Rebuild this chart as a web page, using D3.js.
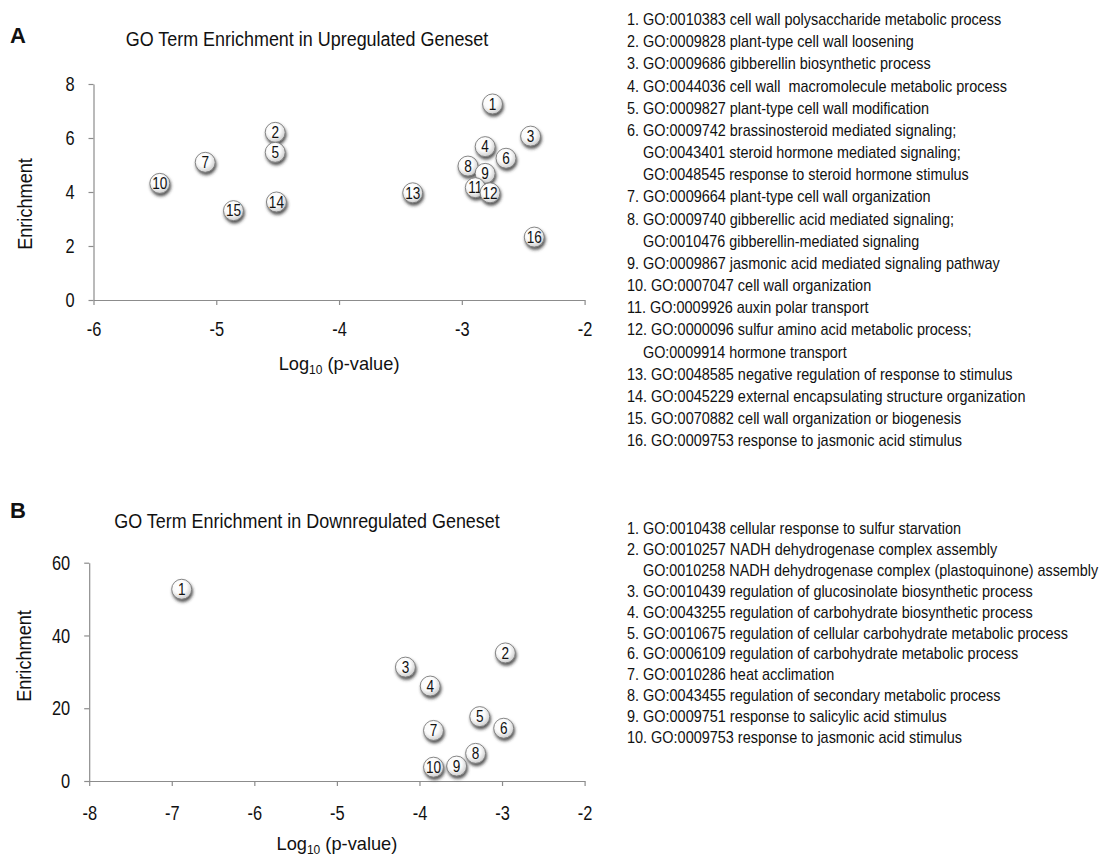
<!DOCTYPE html>
<html>
<head>
<meta charset="utf-8">
<script src="https://cdn.jsdelivr.net/npm/d3@7"></script>
<style>
  body { margin: 0; background: #fff; }
  svg text { font-family: "Liberation Sans", Arial, sans-serif; fill: #111; white-space: pre; }
  .axis path, .axis line { stroke: #8c8c8c; stroke-width: 1.2; }
</style>
</head>
<body>
<div id="chart"></div>
<script>
// Panel A - upregulated geneset
var upLog = [-2.75, -4.52, -2.44, -2.81, -4.52, -2.64, -5.09, -2.95, -2.81, -5.46, -2.89, -2.77, -3.40, -4.51, -4.86, -2.41];
var upEnrich = [7.26, 6.21, 6.07, 5.68, 5.47, 5.25, 5.10, 4.96, 4.69, 4.32, 4.16, 3.97, 3.97, 3.63, 3.31, 2.33];
var upTerms = [
  ["GO:0010383 cell wall polysaccharide metabolic process"],
  ["GO:0009828 plant-type cell wall loosening"],
  ["GO:0009686 gibberellin biosynthetic process"],
  ["GO:0044036 cell wall  macromolecule metabolic process"],
  ["GO:0009827 plant-type cell wall modification"],
  ["GO:0009742 brassinosteroid mediated signaling;", "GO:0043401 steroid hormone mediated signaling;", "GO:0048545 response to steroid hormone stimulus"],
  ["GO:0009664 plant-type cell wall organization"],
  ["GO:0009740 gibberellic acid mediated signaling;", "GO:0010476 gibberellin-mediated signaling"],
  ["GO:0009867 jasmonic acid mediated signaling pathway"],
  ["GO:0007047 cell wall organization"],
  ["GO:0009926 auxin polar transport"],
  ["GO:0000096 sulfur amino acid metabolic process;", "GO:0009914 hormone transport"],
  ["GO:0048585 negative regulation of response to stimulus"],
  ["GO:0045229 external encapsulating structure organization"],
  ["GO:0070882 cell wall organization or biogenesis"],
  ["GO:0009753 response to jasmonic acid stimulus"]
];

// Panel B - downregulated geneset
var downLog = [-6.88, -2.96, -4.17, -3.87, -3.27, -2.98, -3.83, -3.32, -3.55, -3.83];
var downEnrich = [52.7, 35.2, 31.3, 26.1, 17.7, 14.5, 13.9, 7.6, 4.1, 3.8];
var downTerms = [
  ["GO:0010438 cellular response to sulfur starvation"],
  ["GO:0010257 NADH dehydrogenase complex assembly", "GO:0010258 NADH dehydrogenase complex (plastoquinone) assembly"],
  ["GO:0010439 regulation of glucosinolate biosynthetic process"],
  ["GO:0043255 regulation of carbohydrate biosynthetic process"],
  ["GO:0010675 regulation of cellular carbohydrate metabolic process"],
  ["GO:0006109 regulation of carbohydrate metabolic process"],
  ["GO:0010286 heat acclimation"],
  ["GO:0043455 regulation of secondary metabolic process"],
  ["GO:0009751 response to salicylic acid stimulus"],
  ["GO:0009753 response to jasmonic acid stimulus"]
];

var width = 1102, height = 857;

var svg = d3.select("#chart").append("svg")
    .attr("width", width)
    .attr("height", height);

// no narrow font installed, so squeeze the glyphs horizontally
function squeeze(sel, k) {
    sel.each(function() {
        var len = this.getComputedTextLength();
        d3.select(this).attr("textLength", len * k).attr("lengthAdjust", "spacingAndGlyphs");
    });
}

var defs = svg.append("defs");
var grad = defs.append("radialGradient").attr("id", "ball")
    .attr("cx", "42%").attr("cy", "38%").attr("r", "62%");
grad.append("stop").attr("offset", "0%").attr("stop-color", "#ffffff");
grad.append("stop").attr("offset", "55%").attr("stop-color", "#fbfbfb");
grad.append("stop").attr("offset", "100%").attr("stop-color", "#cdcdcd");
defs.append("filter").attr("id", "shadow")
    .attr("x", "-50%").attr("y", "-50%").attr("width", "200%").attr("height", "200%")
  .append("feDropShadow")
    .attr("dx", 1).attr("dy", 2.5).attr("stdDeviation", 1.7)
    .attr("flood-color", "#2a2a2a").attr("flood-opacity", 0.8);

function panel(opt) {
    var x = d3.scaleLinear().domain(opt.xDomain).range(opt.xRange);
    var y = d3.scaleLinear().domain(opt.yDomain).range(opt.yRange);

    var xAxis = d3.axisBottom(x)
        .tickValues(d3.range(opt.xDomain[0], opt.xDomain[1] + 1))
        .tickFormat(function(d) { return String(d); })
        .tickSize(5).tickSizeOuter(0).tickPadding(opt.xPad);
    var yAxis = d3.axisLeft(y)
        .tickValues(d3.range(opt.yDomain[0], opt.yDomain[1] + 1, opt.yStep))
        .tickFormat(function(d) { return String(d); })
        .tickSize(5).tickSizeOuter(0).tickPadding(opt.yPad);

    var xt = svg.append("g").attr("class", "axis")
        .attr("transform", "translate(0," + opt.yRange[0] + ")")
        .call(xAxis)
        .selectAll("text").style("font-size", "20.5px").attr("fill", "#111");
    squeeze(xt, 0.8);
    var yt = svg.append("g").attr("class", "axis")
        .attr("transform", "translate(" + opt.xRange[0] + ",0)")
        .call(yAxis)
        .selectAll("text").style("font-size", "20.5px").attr("fill", "#111");
    squeeze(yt, 0.8);

    // panel letter + title
    svg.append("text")
        .attr("x", 10).attr("y", opt.letterY)
        .style("font-weight", "bold").style("font-size", "22px")
        .text(opt.letter);
    var t = svg.append("text")
        .attr("x", opt.titleX).attr("y", opt.titleY)
        .attr("text-anchor", "middle").style("font-size", "19.5px")
        .text(opt.title);
    squeeze(t, 0.92);

    // axis titles
    var xl = svg.append("text")
        .attr("x", (opt.xRange[0] + opt.xRange[1]) / 2).attr("y", opt.xLabelY)
        .attr("text-anchor", "middle").style("font-size", "19px");
    xl.append("tspan").text("Log");
    xl.append("tspan").attr("dy", 4).style("font-size", "12.5px").text("10");
    xl.append("tspan").attr("dy", -4).text(" (p-value)");
    squeeze(xl, 0.96);

    var yl = svg.append("text")
        .attr("transform", "translate(" + opt.yLabelX + "," + opt.yLabelY + ") rotate(-90)")
        .attr("text-anchor", "middle").style("font-size", "19.5px")
        .text("Enrichment");
    squeeze(yl, 0.93);

    // bubbles
    var pts = opt.xs.map(function(v, i) { return {x: v, y: opt.ys[i], n: i + 1}; });
    var g = svg.append("g").selectAll("g")
        .data(pts)
        .enter()
        .append("g")
        .attr("transform", function(d) { return "translate(" + x(d.x) + "," + y(d.y) + ")"; });
    g.append("circle")
        .attr("r", 10)
        .style("fill", "url(#ball)")
        .style("stroke", "#7a7a7a")
        .style("stroke-width", 0.9)
        .attr("filter", "url(#shadow)");
    var nums = g.append("text")
        .attr("text-anchor", "middle")
        .attr("dy", "0.36em")
        .style("font-size", "16px")
        .text(function(d) { return d.n; });
    squeeze(nums, 0.85);

    // legend
    var ly = opt.legendY;
    opt.terms.forEach(function(lines, i) {
        lines.forEach(function(line, j) {
            var lt = svg.append("text")
                .attr("x", j === 0 ? 627 : 643)
                .attr("y", ly)
                .style("font-size", "17px")
                .text(j === 0 ? (i + 1) + ". " + line : line);
            squeeze(lt, j === 0 ? 0.85 : 0.845);
            ly += opt.legendStep;
        });
    });
}

panel({
    letter: "A", letterY: 43,
    title: "GO Term Enrichment in Upregulated Geneset", titleX: 307, titleY: 45.5,
    xDomain: [-6, -2], xRange: [93.5, 584.6],
    yDomain: [0, 8], yRange: [300, 84], yStep: 2,
    xPad: 16, yPad: 14,
    xLabelY: 370, yLabelX: 32, yLabelY: 204,
    xs: upLog, ys: upEnrich,
    terms: upTerms, legendY: 25, legendStep: 22.17
});

panel({
    letter: "B", letterY: 518,
    title: "GO Term Enrichment in Downregulated Geneset", titleX: 307, titleY: 528,
    xDomain: [-8, -2], xRange: [89.2, 584.6],
    yDomain: [0, 60], yRange: [781, 562.7], yStep: 20,
    xPad: 19, yPad: 14,
    xLabelY: 850, yLabelX: 31, yLabelY: 656,
    xs: downLog, ys: downEnrich,
    terms: downTerms, legendY: 534, legendStep: 20.9
});
</script>
</body>
</html>
